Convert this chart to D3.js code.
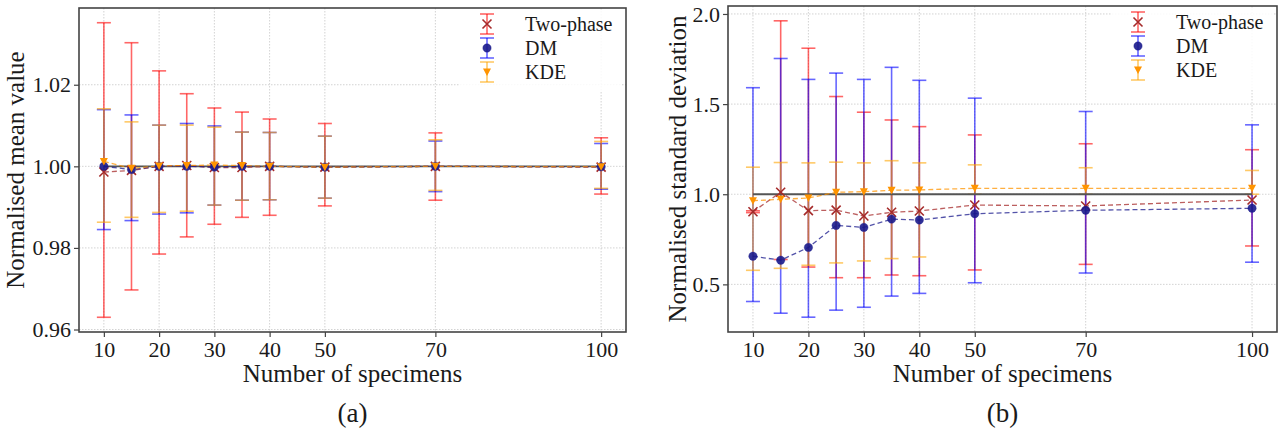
<html>
<head>
<script src="https://cdn.jsdelivr.net/npm/d3@7/dist/d3.min.js"></script>
<style>
    body { margin: 0; background: white; }
    svg text { font-family: "Liberation Serif", "DejaVu Serif", serif !important; fill: #1a1a1a; }
</style>
</head>
<body>
<svg id="chart" width="1281" height="434"></svg>
<script>
var specimens = [10, 15, 20, 25, 30, 35, 40, 50, 70, 100];
var xTickValues = [10, 20, 30, 40, 50, 70, 100];
var seriesNames = ['Two-phase', 'DM', 'KDE'];

// (a) normalised mean value, with lower / upper error bar ends
var meanTwoPhase   = [0.9986, 0.9990, 1.0000, 1.0002, 0.9997, 0.9997, 1.0000, 0.9998, 1.0000, 0.9998];
var meanTwoPhaseLo = [0.9630, 0.9697, 0.9785, 0.9827, 0.9858, 0.9875, 0.9880, 0.9903, 0.9917, 0.9932];
var meanTwoPhaseHi = [1.0352, 1.0303, 1.0234, 1.0178, 1.0143, 1.0133, 1.0116, 1.0105, 1.0082, 1.0070];
var meanDM         = [1.0000, 0.9992, 1.0000, 1.0000, 0.9998, 1.0000, 1.0000, 0.9998, 1.0000, 0.9999];
var meanDMLo       = [0.9845, 0.9867, 0.9883, 0.9886, 0.9905, 0.9917, 0.9918, 0.9922, 0.9938, 0.9944];
var meanDMHi       = [1.0139, 1.0126, 1.0101, 1.0105, 1.0099, 1.0084, 1.0083, 1.0074, 1.0062, 1.0056];
var meanKDE        = [1.0012, 0.9995, 1.0001, 1.0002, 1.0003, 1.0002, 1.0000, 0.9998, 1.0000, 0.9999];
var meanKDELo      = [0.9863, 0.9875, 0.9887, 0.9890, 0.9905, 0.9917, 0.9918, 0.9922, 0.9941, 0.9946];
var meanKDEHi      = [1.0141, 1.0109, 1.0101, 1.0101, 1.0096, 1.0084, 1.0083, 1.0074, 1.0065, 1.0061];
var meanYTicks     = [0.96, 0.98, 1.00, 1.02];

// (b) normalised standard deviation
var stdTwoPhase    = [0.903, 1.011, 0.909, 0.912, 0.879, 0.900, 0.907, 0.940, 0.935, 0.968];
var stdTwoPhaseLo  = [0.898, 0.638, 0.596, 0.537, 0.537, 0.552, 0.548, 0.580, 0.611, 0.713];
var stdTwoPhaseHi  = [0.908, 1.962, 1.810, 1.542, 1.455, 1.412, 1.375, 1.329, 1.280, 1.247];
var stdDM          = [0.656, 0.634, 0.705, 0.827, 0.816, 0.862, 0.857, 0.892, 0.911, 0.922];
var stdDMLo        = [0.405, 0.340, 0.318, 0.357, 0.373, 0.435, 0.450, 0.509, 0.563, 0.623];
var stdDMHi        = [1.591, 1.753, 1.637, 1.672, 1.637, 1.704, 1.632, 1.533, 1.459, 1.385];
var stdKDE         = [0.964, 0.972, 0.979, 1.011, 1.014, 1.022, 1.024, 1.033, 1.033, 1.033];
var stdKDELo       = [0.578, 0.589, 0.606, 0.619, 0.630, 0.643, 0.652, 1.000, 1.000, 1.000];
var stdKDEHi       = [1.150, 1.176, 1.174, 1.178, 1.174, 1.186, 1.174, 1.163, 1.147, 1.132];
var stdYTicks      = [0.5, 1.0, 1.5, 2.0];

var serif = '"Liberation Serif", "DejaVu Serif", serif';

var styles = {
    'Two-phase': { line: '#a52a2a', bar: '#ff0000', marker: 'x' },
    'DM':        { line: '#1a1a8c', bar: '#0000ff', marker: 'o' },
    'KDE':       { line: '#ff9400', bar: '#ffa500', marker: 'v' }
};

var svg = d3.select('#chart');

function drawMarker(g, kind, cx, cy, colour) {
    if (kind === 'x') {
        g.append('path')
            .attr('d', 'M' + (cx - 4.5) + ',' + (cy - 4.5) + 'L' + (cx + 4.5) + ',' + (cy + 4.5) +
                       'M' + (cx - 4.5) + ',' + (cy + 4.5) + 'L' + (cx + 4.5) + ',' + (cy - 4.5))
            .attr('stroke', colour).attr('stroke-width', 1.6).attr('fill', 'none');
    } else if (kind === 'o') {
        g.append('circle').attr('cx', cx).attr('cy', cy).attr('r', 4.2)
            .attr('fill', colour).attr('fill-opacity', 0.9)
            .attr('stroke', colour).attr('stroke-opacity', 0.35).attr('stroke-width', 1);
    } else {
        g.append('path')
            .attr('d', 'M' + (cx - 4) + ',' + (cy - 3.5) + 'L' + (cx + 4) + ',' + (cy - 3.5) + 'L' + cx + ',' + (cy + 4) + 'Z')
            .attr('fill', colour);
    }
}

function drawErrorBar(g, x, yLo, yHi, colour) {
    g.append('line').attr('x1', x).attr('x2', x).attr('y1', yLo).attr('y2', yHi)
        .attr('stroke', colour).attr('stroke-opacity', 0.6).attr('stroke-width', 1.6);
    [yLo, yHi].forEach(function(y) {
        g.append('line').attr('x1', x - 7).attr('x2', x + 7).attr('y1', y).attr('y2', y)
            .attr('stroke', colour).attr('stroke-opacity', 0.6).attr('stroke-width', 1.6);
    });
}

function panel(opt) {
    var g = svg.append('g');
    var x = d3.scaleLinear()
        .domain([d3.min(specimens) - 4.5, d3.max(specimens) + 4.5])
        .range([opt.left, opt.right]);

    var lows = d3.min(opt.series, function(s) { return d3.min(s.lo); });
    var highs = d3.max(opt.series, function(s) { return d3.max(s.hi); });
    var pad = (highs - lows) * 0.05;
    var y = d3.scaleLinear().domain([lows - pad, highs + pad]).range([opt.bottom, opt.top]);

    // grid
    g.append('g').selectAll('line').data(xTickValues).enter().append('line')
        .attr('x1', function(d) { return x(d); }).attr('x2', function(d) { return x(d); })
        .attr('y1', opt.top).attr('y2', opt.bottom)
        .attr('stroke', '#c8c8c8').attr('stroke-width', 0.8).attr('stroke-dasharray', '1.5,1.5');
    g.append('g').selectAll('line').data(opt.yTicks).enter().append('line')
        .attr('y1', function(d) { return y(d); }).attr('y2', function(d) { return y(d); })
        .attr('x1', opt.left).attr('x2', opt.right)
        .attr('stroke', '#c8c8c8').attr('stroke-width', 0.8).attr('stroke-dasharray', '1.5,1.5');

    // error bars
    var bars = g.append('g');
    opt.series.forEach(function(s) {
        specimens.forEach(function(n, i) {
            drawErrorBar(bars, x(n), y(s.lo[i]), y(s.hi[i]), styles[s.name].bar);
        });
    });

    // reference line at 1
    g.append('line').attr('x1', x(10)).attr('x2', x(100)).attr('y1', y(1)).attr('y2', y(1))
        .attr('stroke', '#555').attr('stroke-width', 1.8);

    // mean lines and markers
    var line = d3.line().x(function(d) { return x(d[0]); }).y(function(d) { return y(d[1]); });
    opt.series.forEach(function(s) {
        var st = styles[s.name];
        g.append('path')
            .datum(specimens.map(function(n, i) { return [n, s.val[i]]; }))
            .attr('d', line).attr('fill', 'none')
            .attr('stroke', st.line).attr('stroke-opacity', 0.75)
            .attr('stroke-width', 1.3).attr('stroke-dasharray', '5,3');
    });
    opt.series.forEach(function(s) {
        var st = styles[s.name];
        specimens.forEach(function(n, i) { drawMarker(g, st.marker, x(n), y(s.val[i]), st.line); });
    });

    // frame
    g.append('rect').attr('x', opt.left).attr('y', opt.top)
        .attr('width', opt.right - opt.left).attr('height', opt.bottom - opt.top)
        .attr('fill', 'none').attr('stroke', '#444').attr('stroke-width', 1.6);

    // axes
    var xAxis = g.append('g').attr('transform', 'translate(0,' + opt.bottom + ')')
        .call(d3.axisBottom(x).tickValues(xTickValues).tickSize(5).tickPadding(4));
    var yAxis = g.append('g').attr('transform', 'translate(' + opt.left + ',0)')
        .call(d3.axisLeft(y).tickValues(opt.yTicks).tickFormat(d3.format(opt.fmt)).tickSize(5).tickPadding(3));
    [xAxis, yAxis].forEach(function(a) {
        a.attr('font-family', serif).attr('font-size', 22);
        a.select('.domain').remove();
        a.selectAll('.tick line').attr('stroke', '#444').attr('stroke-width', 1.2);
        a.selectAll('.tick text').attr('fill', '#1a1a1a');
    });

    // labels
    var cx = (opt.left + opt.right) / 2;
    g.append('text').attr('x', cx).attr('y', opt.bottom + 50).attr('text-anchor', 'middle')
        .attr('font-family', serif).attr('font-size', 25).text('Number of specimens');
    g.append('text').attr('transform', 'translate(' + opt.yLabelX + ',' + ((opt.top + opt.bottom) / 2) + ') rotate(-90)')
        .attr('text-anchor', 'middle').attr('font-family', serif).attr('font-size', 25).text(opt.yLabel);
    g.append('text').attr('x', cx).attr('y', opt.bottom + 90).attr('text-anchor', 'middle')
        .attr('font-family', serif).attr('font-size', 27).text(opt.caption);

    // legend
    var lg = g.append('g');
    lg.append('rect').attr('x', opt.right - 166).attr('y', opt.top + 2)
        .attr('width', 162).attr('height', 82).attr('fill', 'white').attr('fill-opacity', 0.85);
    opt.series.forEach(function(s, i) {
        var st = styles[s.name];
        var hx = opt.right - 139, hy = opt.top + 16 + i * 24;
        drawErrorBar(lg, hx, hy + 10, hy - 10, st.bar);
        drawMarker(lg, st.marker, hx, hy, st.line);
        lg.append('text').attr('x', opt.right - 101).attr('y', hy + 7)
            .attr('font-family', serif).attr('font-size', 20).text(s.name);
    });
}

panel({
    left: 79, right: 626, top: 8, bottom: 332,
    yTicks: meanYTicks, fmt: '.2f', yLabelX: 24,
    yLabel: 'Normalised mean value', caption: '(a)',
    series: [
        { name: seriesNames[0], val: meanTwoPhase, lo: meanTwoPhaseLo, hi: meanTwoPhaseHi },
        { name: seriesNames[1], val: meanDM, lo: meanDMLo, hi: meanDMHi },
        { name: seriesNames[2], val: meanKDE, lo: meanKDELo, hi: meanKDEHi }
    ]
});

panel({
    left: 728, right: 1277, top: 6, bottom: 332,
    yTicks: stdYTicks, fmt: '.1f', yLabelX: 686,
    yLabel: 'Normalised standard deviation', caption: '(b)',
    series: [
        { name: seriesNames[0], val: stdTwoPhase, lo: stdTwoPhaseLo, hi: stdTwoPhaseHi },
        { name: seriesNames[1], val: stdDM, lo: stdDMLo, hi: stdDMHi },
        { name: seriesNames[2], val: stdKDE, lo: stdKDELo, hi: stdKDEHi }
    ]
});
</script>
</body>
</html>
